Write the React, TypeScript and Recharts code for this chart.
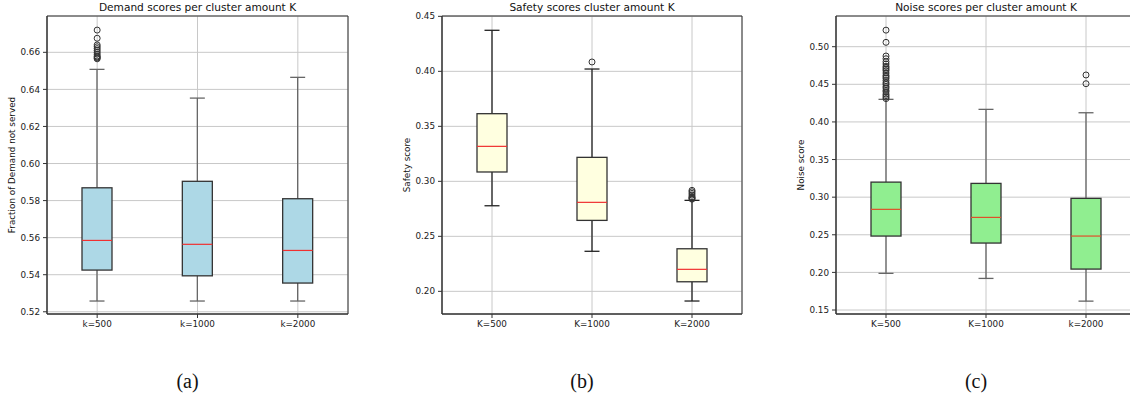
import React from 'react';
import { ComposedChart, Bar, Scatter, XAxis, YAxis, CartesianGrid, ReferenceArea } from 'recharts';

// ---------- Data ----------
const demandLabels = ['k=500', 'k=1000', 'k=2000'];
const demandLow = [0.5258, 0.5258, 0.5258];
const demandQ1 = [0.5425, 0.5394, 0.5355];
const demandMed = [0.5585, 0.5564, 0.5531];
const demandQ3 = [0.5869, 0.5904, 0.581];
const demandHigh = [0.6508, 0.6353, 0.6465];
const demandOutliers = [
  [0.6565, 0.657, 0.6575, 0.658, 0.659, 0.66, 0.661, 0.662, 0.663, 0.664, 0.6676, 0.672],
  [],
  [],
];
const demandTicks = [0.52, 0.54, 0.56, 0.58, 0.6, 0.62, 0.64, 0.66];

const safetyLabels = ['K=500', 'K=1000', 'K=2000'];
const safetyLow = [0.2778, 0.2364, 0.1912];
const safetyQ1 = [0.3085, 0.2645, 0.2087];
const safetyMed = [0.3318, 0.2809, 0.22];
const safetyQ3 = [0.3615, 0.3218, 0.2387];
const safetyHigh = [0.4373, 0.4021, 0.2827];
const safetyOutliers = [
  [],
  [0.4085],
  [0.2838, 0.2845, 0.2852, 0.286, 0.2875, 0.289, 0.2905, 0.2918],
];
const safetyTicks = [0.2, 0.25, 0.3, 0.35, 0.4, 0.45];

const noiseLabels = ['K=500', 'K=1000', 'k=2000'];
const noiseLow = [0.1987, 0.192, 0.1618];
const noiseQ1 = [0.2483, 0.239, 0.2044];
const noiseMed = [0.2838, 0.2731, 0.2483];
const noiseQ3 = [0.32, 0.3183, 0.2984];
const noiseHigh = [0.43, 0.4167, 0.4122];
const noiseOutliers = [
  [0.431, 0.433, 0.435, 0.437, 0.44, 0.442, 0.445, 0.447, 0.45, 0.452, 0.455, 0.458, 0.46, 0.462, 0.465, 0.468, 0.47, 0.472, 0.474, 0.477, 0.48, 0.484, 0.4876, 0.5058, 0.522],
  [],
  [0.4508, 0.4624],
];
const noiseTicks = [0.15, 0.2, 0.25, 0.3, 0.35, 0.4, 0.45, 0.5];

const FONT = '"DejaVu Sans", sans-serif';

type PanelProps = {
  left: number;
  plotW: number;
  title: string;
  yLabel: string;
  labels: string[];
  low: number[]; q1: number[]; med: number[]; q3: number[]; high: number[];
  outliers: number[][];
  yDomain: [number, number];
  yTicks: number[];
  fill: string;
  whisker: string;
  median: string;
  caption: string;
};

const Y_AXIS_W = 47;
const TOP = 16;
const PLOT_H = 298;
const X_AXIS_H = 26;

function makeBoxShape(fill: string, edge: string, whisker: string, median: string) {
  return (props: any) => {
    const { x, y, width, height, payload } = props;
    if (x == null || y == null || !payload) return <g />;
    const top = Math.min(y, y + height);
    const bot = Math.max(y, y + height);
    const { low, q1, med, q3, high } = payload;
    const py = (v: number) => top + ((bot - top) * (high - v)) / (high - low);
    const cx = x + width / 2;
    const cap = width / 4;
    return (
      <g>
        <line x1={cx} x2={cx} y1={py(high)} y2={py(q3)} stroke={whisker} strokeWidth={1.3} />
        <line x1={cx} x2={cx} y1={py(q1)} y2={py(low)} stroke={whisker} strokeWidth={1.3} />
        <line x1={cx - cap} x2={cx + cap} y1={py(high)} y2={py(high)} stroke={whisker} strokeWidth={1.3} />
        <line x1={cx - cap} x2={cx + cap} y1={py(low)} y2={py(low)} stroke={whisker} strokeWidth={1.3} />
        <rect x={x} y={py(q3)} width={width} height={py(q1) - py(q3)} fill={fill} stroke={edge} strokeWidth={1.3} />
        <line x1={x} x2={x + width} y1={py(med)} y2={py(med)} stroke={median} strokeWidth={1.2} />
      </g>
    );
  };
}

const outlierShape = (props: any) => (
  <circle cx={props.cx} cy={props.cy} r={3} fill="none" stroke="#333" strokeWidth={1} />
);

function Panel(p: PanelProps) {
  const rows = p.labels.map((_, i) => ({
    x: i + 0.5,
    low: p.low[i], q1: p.q1[i], med: p.med[i], q3: p.q3[i], high: p.high[i],
  }));
  const outs: { x: number; y: number }[] = [];
  p.outliers.forEach((arr, i) => arr.forEach((v) => outs.push({ x: i + 0.5, y: v })));
  const xTicks = p.labels.map((_, i) => i + 0.5);
  const chartW = Y_AXIS_W + p.plotW + 6;
  const plotLeft = p.left + Y_AXIS_W;
  const tickStyle = { fontFamily: FONT, fontSize: 8.8, fill: '#222' };
  return (
    <>
      <div style={{ position: 'absolute', left: p.left, top: 0, width: chartW, height: TOP + PLOT_H + X_AXIS_H }}>
        <ComposedChart
          width={chartW}
          height={TOP + PLOT_H + X_AXIS_H}
          data={rows}
          margin={{ top: TOP, right: 6, bottom: 0, left: 0 }}
        >
          <CartesianGrid stroke="#c8c8c8" strokeWidth={1} />
          <XAxis
            dataKey="x"
            type="number"
            domain={[0, 3]}
            ticks={xTicks}
            tickFormatter={(v: number) => p.labels[Math.round(v - 0.5)]}
            height={X_AXIS_H}
            tick={tickStyle}
            tickSize={4}
            tickMargin={3}
            stroke="#333"
            allowDataOverflow
          />
          <YAxis
            type="number"
            domain={p.yDomain}
            ticks={p.yTicks}
            tickFormatter={(v: number) => v.toFixed(2)}
            width={Y_AXIS_W}
            tick={tickStyle}
            tickSize={4}
            tickMargin={3}
            stroke="#333"
            allowDataOverflow
            interval={0}
          />
          <Bar
            dataKey={(d: any) => [d.low, d.high]}
            barSize={30}
            isAnimationActive={false}
            shape={makeBoxShape(p.fill, '#333', p.whisker, p.median)}
          />
          <Scatter data={outs} dataKey="y" isAnimationActive={false} shape={outlierShape} />
          <ReferenceArea
            x1={0}
            x2={3}
            y1={p.yDomain[0]}
            y2={p.yDomain[1]}
            fill="none"
            fillOpacity={0}
            stroke="#333"
            strokeWidth={1}
            ifOverflow="visible"
          />
        </ComposedChart>
      </div>
      <div
        style={{
          position: 'absolute', left: plotLeft, top: 0, width: p.plotW, textAlign: 'center',
          fontFamily: FONT, fontSize: 10.6, lineHeight: '15px', color: '#111', whiteSpace: 'nowrap',
        }}
      >
        {p.title}
      </div>
      <div
        style={{
          position: 'absolute', left: plotLeft - 35 - 100, top: TOP + PLOT_H / 2 - 6, width: 200, height: 12,
          textAlign: 'center', fontFamily: FONT, fontSize: 8.8, lineHeight: '12px', color: '#111',
          transform: 'rotate(-90deg)', whiteSpace: 'nowrap',
        }}
      >
        {p.yLabel}
      </div>
      <div
        style={{
          position: 'absolute', left: plotLeft + p.plotW / 2 - 10 - 50, top: 369, width: 100, textAlign: 'center',
          fontFamily: '"Liberation Serif", serif', fontSize: 20, lineHeight: '24px', color: '#111',
        }}
      >
        {p.caption}
      </div>
    </>
  );
}

export default function App() {
  return (
    <div style={{ position: 'absolute', left: 0, top: 0, width: 1130, height: 401, overflow: 'hidden', background: '#fff' }}>
      <Panel
        left={0} plotW={301}
        title="Demand scores per cluster amount K" yLabel="Fraction of Demand not served"
        labels={demandLabels} low={demandLow} q1={demandQ1} med={demandMed} q3={demandQ3} high={demandHigh}
        outliers={demandOutliers} yDomain={[0.5188, 0.6796]} yTicks={demandTicks}
        fill="#add8e6" whisker="#666" median="#f03030" caption="(a)"
      />
      <Panel
        left={395} plotW={300}
        title="Safety scores cluster amount K" yLabel="Safety score"
        labels={safetyLabels} low={safetyLow} q1={safetyQ1} med={safetyMed} q3={safetyQ3} high={safetyHigh}
        outliers={safetyOutliers} yDomain={[0.1794, 0.4503]} yTicks={safetyTicks}
        fill="#ffffe0" whisker="#222" median="#f03030" caption="(b)"
      />
      <Panel
        left={789} plotW={300}
        title="Noise scores per cluster amount K" yLabel="Noise score"
        labels={noiseLabels} low={noiseLow} q1={noiseQ1} med={noiseMed} q3={noiseQ3} high={noiseHigh}
        outliers={noiseOutliers} yDomain={[0.1447, 0.5408]} yTicks={noiseTicks}
        fill="#90ee90" whisker="#666" median="#e0502a" caption="(c)"
      />
    </div>
  );
}
